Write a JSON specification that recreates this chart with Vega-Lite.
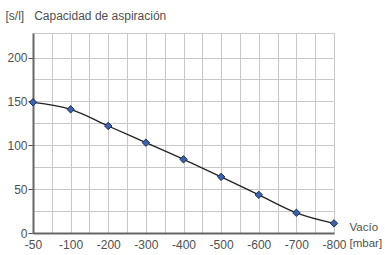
{
  "$schema": "https://vega.github.io/schema/vega-lite/v6.json",
  "width": 301,
  "height": 200,
  "autosize": {"type": "none"},
  "padding": {"left": 33, "top": 33, "right": 51, "bottom": 22},
  "config": {
    "font": "Liberation Sans",
    "view": {"stroke": "#c8c8c8", "strokeWidth": 1}
  },
  "data": {
    "values": [
      {"idx": 0, "vacio": "-50", "caudal": 149},
      {"idx": 1, "vacio": "-100", "caudal": 141},
      {"idx": 2, "vacio": "-200", "caudal": 122},
      {"idx": 3, "vacio": "-300", "caudal": 103},
      {"idx": 4, "vacio": "-400", "caudal": 84},
      {"idx": 5, "vacio": "-500", "caudal": 64},
      {"idx": 6, "vacio": "-600", "caudal": 43.5},
      {"idx": 7, "vacio": "-700", "caudal": 23},
      {"idx": 8, "vacio": "-800", "caudal": 11}
    ]
  },
  "encoding": {
    "x": {
      "field": "idx",
      "type": "quantitative",
      "scale": {"domain": [0, 8], "nice": false, "zero": false},
      "axis": {
        "values": [0, 0.5, 1, 1.5, 2, 2.5, 3, 3.5, 4, 4.5, 5, 5.5, 6, 6.5, 7, 7.5, 8],
        "labelExpr": "datum.value % 1 == 0 ? ['-50','-100','-200','-300','-400','-500','-600','-700','-800'][datum.value] : ''",
        "labelFlush": false,
        "labelOverlap": false,
        "ticks": false,
        "grid": true,
        "gridColor": "#c8c8c8",
        "gridWidth": 1,
        "domainColor": "#666666",
        "domainWidth": 2,
        "labelColor": "#505050",
        "labelFontSize": 12,
        "labelPadding": 6.5,
        "title": ["Vacío", "[mbar]"],
        "titleFontSize": 11.5,
        "titleFontWeight": "normal",
        "titleColor": "#505050",
        "titleAlign": "left",
        "titleBaseline": "top",
        "titleX": 316,
        "titleY": -12,
        "titleLineHeight": 16
      }
    },
    "y": {
      "field": "caudal",
      "type": "quantitative",
      "scale": {"domain": [0, 228], "nice": false},
      "axis": {
        "values": [0, 25, 50, 75, 100, 125, 150, 175, 200],
        "labelExpr": "datum.value % 50 == 0 ? datum.label : ''",
        "tickOpacity": {"condition": {"test": "datum.value % 50 == 0", "value": 1}, "value": 0},
        "tickColor": "#555555",
        "tickSize": 5,
        "grid": true,
        "gridColor": "#c8c8c8",
        "gridWidth": 1,
        "domainColor": "#666666",
        "domainWidth": 2,
        "labelColor": "#505050",
        "labelFontSize": 12,
        "labelPadding": 1,
        "title": "[s/l]\u00a0\u00a0\u00a0Capacidad de aspiración",
        "titleAngle": 0,
        "titleAlign": "left",
        "titleBaseline": "middle",
        "titleFontSize": 12,
        "titleFontWeight": "normal",
        "titleColor": "#505050",
        "titleX": -28,
        "titleY": -18
      }
    }
  },
  "layer": [
    {
      "mark": {"type": "line", "interpolate": "monotone", "color": "#222222", "strokeWidth": 1.3}
    },
    {
      "mark": {"type": "point", "shape": "diamond", "filled": true, "size": 55, "fill": "#3d62a8", "stroke": "#1c2f5a", "strokeWidth": 1, "opacity": 1}
    }
  ]
}
